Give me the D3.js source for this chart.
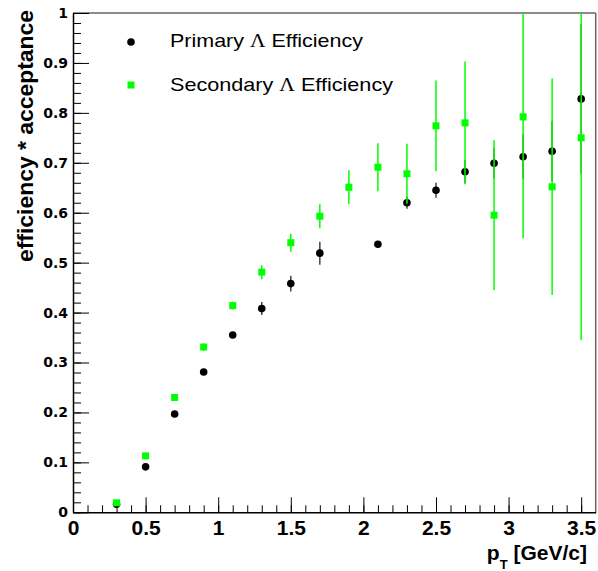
<!DOCTYPE html>
<html>
<head>
<meta charset="utf-8">
<script src="https://cdn.jsdelivr.net/npm/d3@7"></script>
<style>
  html, body { margin: 0; padding: 0; background: #fff; }
  svg { display: block; }
</style>
</head>
<body>
<div id="chart"></div>
<script>
// pT bin centres [GeV/c]
const ptBins = [0.3, 0.5, 0.7, 0.9, 1.1, 1.3, 1.5, 1.7, 1.9, 2.1, 2.3, 2.5, 2.7, 2.9, 3.1, 3.3, 3.5]

// primary Lambda efficiency (no point at 1.9)
const primaryEff = [0.016, 0.091, 0.197, 0.281, 0.355, 0.408, 0.458, 0.519, null, 0.537, 0.620, 0.645, 0.682, 0.699, 0.712, 0.723, 0.828]
const primaryErr = [0.002, 0.003, 0.004, 0.005, 0.006, 0.013, 0.016, 0.023, null, 0.005, 0.012, 0.015, 0.023, 0.030, 0.045, 0.060, 0.150]

// secondary Lambda efficiency
const secondaryEff = [0.019, 0.113, 0.230, 0.331, 0.414, 0.481, 0.540, 0.593, 0.651, 0.691, 0.678, 0.774, 0.780, 0.595, 0.792, 0.652, 0.750]
const secondaryErr = [0.003, 0.004, 0.006, 0.007, 0.008, 0.014, 0.018, 0.024, 0.034, 0.048, 0.060, 0.091, 0.123, 0.150, 0.243, 0.217, 0.405]

const xTicks = [0, 0.5, 1, 1.5, 2, 2.5, 3, 3.5]
const yTicks = [0, 0.1, 0.2, 0.3, 0.4, 0.5, 0.6, 0.7, 0.8, 0.9, 1]

const legendLabels = ['Primary ', 'Secondary ']

const width = 598
const height = 571
const margin = { top: 13, right: 2.3, bottom: 58.7, left: 73 }
const innerW = width - margin.left - margin.right
const innerH = height - margin.top - margin.bottom

const x = d3.scaleLinear().domain([0, 3.6]).range([0, innerW])
const y = d3.scaleLinear().domain([0, 1]).range([innerH, 0])

const svg = d3.select('#chart')
    .append('svg')
    .attr('width', width)
    .attr('height', height)
    .attr('xmlns', 'http://www.w3.org/2000/svg')

const g = svg.append('g').attr('transform', `translate(${margin.left},${margin.top})`)

g.append('clipPath').attr('id', 'plot-clip')
    .append('rect').attr('width', innerW).attr('height', innerH)

// frame (top and right)
g.append('line').attr('x1', 0).attr('x2', innerW).attr('y1', 0).attr('y2', 0)
    .attr('stroke', '#666').attr('stroke-width', 1.5)
g.append('line').attr('x1', innerW).attr('x2', innerW).attr('y1', 0).attr('y2', innerH)
    .attr('stroke', '#666').attr('stroke-width', 1.5)

// minor ticks
g.append('g')
    .attr('transform', `translate(0,${innerH})`)
    .call(d3.axisBottom(x).tickValues(d3.range(0, 36).map(i => i / 10)).tickSize(-7).tickFormat(''))
    .call(s => s.select('.domain').remove())
g.append('g')
    .call(d3.axisLeft(y).tickValues(d3.range(0, 51).map(i => i / 50)).tickSize(-8).tickFormat(''))
    .call(s => s.select('.domain').remove())

// major axes
const xAxis = g.append('g')
    .attr('transform', `translate(0,${innerH})`)
    .call(d3.axisBottom(x).tickValues(xTicks).tickSize(-15).tickSizeOuter(0).tickPadding(8).tickFormat(d3.format('')))
xAxis.selectAll('text')
    .attr('font-family', 'Liberation Sans, Arial, sans-serif')
    .attr('font-weight', 'bold')
    .attr('font-size', 21)
    .attr('fill', '#000')

const yAxis = g.append('g')
    .call(d3.axisLeft(y).tickValues(yTicks).tickSize(-16).tickSizeOuter(0).tickPadding(5).tickFormat(d3.format('')))
yAxis.selectAll('text')
    .attr('font-family', 'DejaVu Sans, sans-serif')
    .attr('font-weight', 'bold')
    .attr('font-size', 14)
    .attr('fill', '#000')

g.selectAll('.domain').attr('stroke', '#000').attr('stroke-width', 1.5)
g.selectAll('.tick line').attr('stroke', '#000').attr('stroke-width', 1)

// data
const primary = ptBins.map((pt, i) => ({ pt: pt, v: primaryEff[i], e: primaryErr[i] })).filter(d => d.v !== null)
const secondary = ptBins.map((pt, i) => ({ pt: pt, v: secondaryEff[i], e: secondaryErr[i] }))

const plot = g.append('g').attr('clip-path', 'url(#plot-clip)')

plot.selectAll('line.err-primary')
    .data(primary)
    .enter()
    .append('line')
    .attr('class', 'err-primary')
    .attr('x1', d => x(d.pt)).attr('x2', d => x(d.pt))
    .attr('y1', d => y(d.v - d.e)).attr('y2', d => y(d.v + d.e))
    .attr('stroke', '#444').attr('stroke-width', 1.5)

plot.selectAll('circle.primary')
    .data(primary)
    .enter()
    .append('circle')
    .attr('class', 'primary')
    .attr('cx', d => x(d.pt))
    .attr('cy', d => y(d.v))
    .attr('r', 3.8)
    .attr('fill', '#000')

plot.selectAll('line.err-secondary')
    .data(secondary)
    .enter()
    .append('line')
    .attr('class', 'err-secondary')
    .attr('x1', d => x(d.pt)).attr('x2', d => x(d.pt))
    .attr('y1', d => y(d.v - d.e)).attr('y2', d => y(d.v + d.e))
    .attr('stroke', '#00ff00').attr('stroke-width', 1.5)

plot.selectAll('rect.secondary')
    .data(secondary)
    .enter()
    .append('rect')
    .attr('class', 'secondary')
    .attr('x', d => x(d.pt) - 3.5)
    .attr('y', d => y(d.v) - 3.5)
    .attr('width', 7)
    .attr('height', 7)
    .attr('fill', '#00ff00')

// legend
svg.append('circle').attr('cx', 131).attr('cy', 42).attr('r', 3.8).attr('fill', '#000')
svg.append('rect').attr('x', 127.5).attr('y', 81.5).attr('width', 7).attr('height', 7).attr('fill', '#00ff00')

const legendText = (yPos, label, len) => {
    const t = svg.append('text')
        .attr('x', 170).attr('y', yPos)
        .attr('font-family', 'Liberation Sans, Arial, sans-serif')
        .attr('font-size', 18.5)
        .attr('fill', '#000')
        .attr('textLength', len)
        .attr('lengthAdjust', 'spacingAndGlyphs')
    t.append('tspan').text(label)
    t.append('tspan').attr('font-family', 'Liberation Serif, Times New Roman, serif').text('Λ')
    t.append('tspan').text(' Efficiency')
}
legendText(47, legendLabels[0], 193)
legendText(90.5, legendLabels[1], 223)

// axis titles
svg.append('text')
    .attr('transform', 'translate(33,10) rotate(-90)')
    .attr('text-anchor', 'end')
    .attr('font-family', 'Liberation Sans, Arial, sans-serif')
    .attr('font-weight', 'bold')
    .attr('font-size', 22)
    .attr('textLength', 252)
    .attr('lengthAdjust', 'spacingAndGlyphs')
    .text('efficiency * acceptance')

const xTitle = svg.append('text')
    .attr('x', 587).attr('y', 560)
    .attr('text-anchor', 'end')
    .attr('font-family', 'Liberation Sans, Arial, sans-serif')
    .attr('font-weight', 'bold')
    .attr('font-size', 21)
xTitle.append('tspan').text('p')
xTitle.append('tspan').attr('font-size', 13).attr('dy', 9).text('T')
xTitle.append('tspan').attr('dy', -9).text(' [GeV/c]')
</script>
</body>
</html>
